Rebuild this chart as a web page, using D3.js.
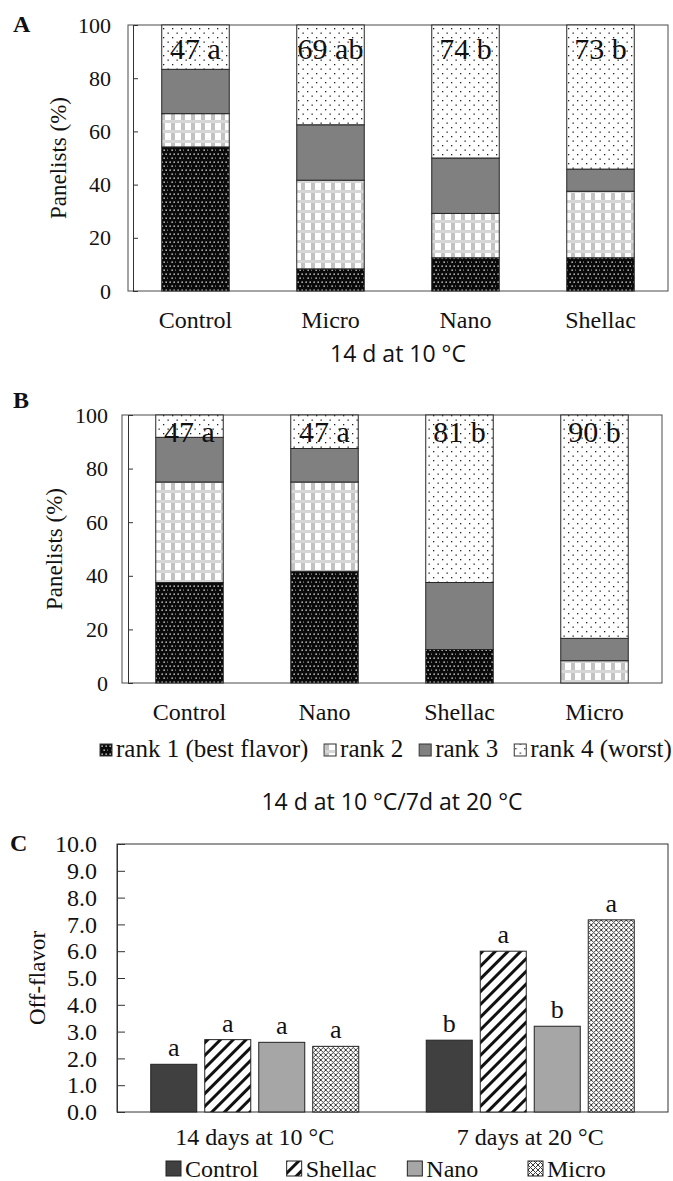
<!DOCTYPE html>
<head>
  <meta charset="utf-8">
  <script src="https://d3js.org/d3.v7.min.js"></script>
  <style type="text/css">
    body { margin: 0; background: #fff; }
  </style>
</head>

<body>
  <script type="text/javascript">
    // ---- data ----
    var rankNames = ["rank 1 (best flavor)", "rank 2", "rank 3", "rank 4 (worst)"];
    var pctTicks = [0, 20, 40, 60, 80, 100];

    // A: 14 d at 10 C  (24 panelists)
    var catsA = ["Control", "Micro", "Nano", "Shellac"];
    var rank1A = [54.17, 8.33, 12.5, 12.5];
    var rank2A = [12.5, 33.33, 16.67, 25];
    var rank3A = [16.67, 20.83, 20.83, 8.33];
    var rank4A = [16.67, 37.5, 50, 54.17];
    var sumsA = ["47 a", "69 ab", "74 b", "73 b"];

    // B: 14 d at 10 C / 7 d at 20 C
    var catsB = ["Control", "Nano", "Shellac", "Micro"];
    var rank1B = [37.5, 41.67, 12.5, 0];
    var rank2B = [37.5, 33.33, 0, 8.33];
    var rank3B = [16.67, 12.5, 25, 8.33];
    var rank4B = [8.33, 12.5, 62.5, 83.33];
    var sumsB = ["47 a", "47 a", "81 b", "90 b"];

    // C: off-flavor
    var periods = ["14 days at 10 °C", "7 days at 20 °C"];
    var coatings = ["Control", "Shellac", "Nano", "Micro"];
    var offFlavor14 = [1.78, 2.7, 2.6, 2.45];
    var offFlavor7 = [2.68, 6.0, 3.2, 7.17];
    var letters14 = ["a", "a", "a", "a"];
    var letters7 = ["b", "a", "b", "a"];
    var offTicks = [0, 1, 2, 3, 4, 5, 6, 7, 8, 9, 10];

    var SERIF = "'Liberation Serif', 'Times New Roman', serif";
    var SANS = "'Open Sans', sans-serif";

    var svg = d3.select("body").append("svg")
      .attr("width", 673)
      .attr("height", 1181)
      .attr("font-family", SERIF);

    // ---- fill patterns ----
    var defs = svg.append("defs");

    var p1 = defs.append("pattern").attr("id", "rank1")
      .attr("patternUnits", "userSpaceOnUse").attr("width", 8).attr("height", 8);
    p1.append("rect").attr("width", 8).attr("height", 8).attr("fill", "#0a0a0a");
    [[1.5, 1.5], [5.5, 1.5], [3.5, 5.5], [7.5, 5.5]].forEach(function(p) {
      p1.append("rect").attr("x", p[0]).attr("y", p[1]).attr("width", 1.3).attr("height", 1.3).attr("fill", "#fff");
    });

    var p2 = defs.append("pattern").attr("id", "rank2")
      .attr("patternUnits", "userSpaceOnUse").attr("width", 10).attr("height", 10);
    p2.append("rect").attr("width", 10).attr("height", 10).attr("fill", "#fff");
    p2.append("rect").attr("y", 0).attr("width", 10).attr("height", 3).attr("fill", "#d6d6d6");
    p2.append("rect").attr("x", 1).attr("y", 3).attr("width", 4).attr("height", 7).attr("fill", "#c2c2c2");

    var p4 = defs.append("pattern").attr("id", "rank4")
      .attr("patternUnits", "userSpaceOnUse").attr("width", 9).attr("height", 9);
    p4.append("rect").attr("width", 9).attr("height", 9).attr("fill", "#fff");
    [[1, 1], [5.5, 5.5]].forEach(function(p) {
      p4.append("rect").attr("x", p[0]).attr("y", p[1]).attr("width", 1.3).attr("height", 1.3).attr("fill", "#222");
    });

    var ps = defs.append("pattern").attr("id", "stripes")
      .attr("patternUnits", "userSpaceOnUse").attr("width", 9).attr("height", 9)
      .attr("patternTransform", "rotate(45)");
    ps.append("rect").attr("width", 9).attr("height", 9).attr("fill", "#fff");
    ps.append("rect").attr("width", 3).attr("height", 9).attr("fill", "#111");

    var pc = defs.append("pattern").attr("id", "cross")
      .attr("patternUnits", "userSpaceOnUse").attr("width", 5).attr("height", 5);
    pc.append("rect").attr("width", 5).attr("height", 5).attr("fill", "#fff");
    pc.append("path").attr("d", "M0,0L5,5M5,0L0,5").attr("stroke", "#3a3a3a").attr("stroke-width", 1);

    var rankFills = ["url(#rank1)", "url(#rank2)", "#808080", "url(#rank4)"];
    var coatFills = ["#404040", "url(#stripes)", "#a6a6a6", "url(#cross)"];

    // serif label helper
    function serif(sel, size) {
      return sel.style("font-family", SERIF).attr("font-size", size).attr("fill", "#111");
    }

    // ---- panel C: grouped off-flavor bars (drawn first) ----
    var cLeft = 117, cRight = 668, cTop = 844, cBottom = 1112;
    var gC = svg.append("g");

    var x0 = d3.scaleBand().domain(periods).range([cLeft, cRight])
      .paddingInner(0.245).paddingOuter(0.1225);
    var x1 = d3.scaleBand().domain(coatings).range([0, x0.bandwidth()])
      .paddingInner(0.148);
    var yC = d3.scaleLinear().domain([0, 10]).range([cBottom, cTop]);

    var offTable = periods.map(function(p, i) {
      var vals = i === 0 ? offFlavor14 : offFlavor7;
      var lets = i === 0 ? letters14 : letters7;
      return coatings.map(function(c, j) { return { period: p, coat: c, v: vals[j], letter: lets[j], k: j }; });
    });

    gC.append("rect")
      .attr("x", cLeft).attr("y", cTop)
      .attr("width", cRight - cLeft).attr("height", cBottom - cTop)
      .attr("fill", "none").attr("stroke", "#333");

    var groups = gC.selectAll("g.grp").data(offTable).join("g")
      .attr("class", "grp")
      .attr("transform", function(d) { return "translate(" + x0(d[0].period) + ",0)"; });

    groups.selectAll("rect").data(function(d) { return d; }).join("rect")
      .attr("x", function(d) { return x1(d.coat); })
      .attr("width", x1.bandwidth())
      .attr("y", function(d) { return yC(d.v); })
      .attr("height", function(d) { return yC(0) - yC(d.v); })
      .attr("fill", function(d) { return coatFills[d.k]; })
      .attr("stroke", "#222").attr("stroke-width", 1);

    serif(groups.selectAll("text").data(function(d) { return d; }).join("text"), 26)
      .attr("x", function(d) { return x1(d.coat) + x1.bandwidth() / 2; })
      .attr("y", function(d) { return yC(d.v) - 8; })
      .attr("text-anchor", "middle")
      .text(function(d) { return d.letter; });

    var yAxisC = gC.append("g")
      .attr("transform", "translate(" + cLeft + ",0)")
      .call(d3.axisLeft(yC).tickValues(offTicks).tickFormat(d3.format(".1f"))
        .tickSize(-8).tickSizeOuter(0).tickPadding(20))
      .attr("font-family", null);
    yAxisC.selectAll("line, path").attr("stroke", "#333");
    serif(yAxisC.selectAll("text"), 24);

    serif(gC.selectAll("text.period").data(periods).join("text"), 24)
      .attr("class", "period")
      .attr("x", function(d) { return x0(d) + x0.bandwidth() / 2; })
      .attr("y", 1145)
      .attr("text-anchor", "middle")
      .text(function(d) { return d; });

    serif(gC.append("text"), 23)
      .attr("transform", "translate(45," + (cTop + cBottom) / 2 + ") rotate(-90)")
      .attr("text-anchor", "middle")
      .text("Off-flavor");

    serif(gC.append("text"), 24)
      .attr("x", 10).attr("y", 851)
      .attr("font-weight", "bold")
      .text("C");

    var legX = d3.scalePoint().domain(coatings).range([166, 528]);
    var legC = gC.selectAll("g.legc").data(coatings).join("g")
      .attr("class", "legc")
      .attr("transform", function(d) { return "translate(" + legX(d) + ",0)"; });
    legC.append("rect")
      .attr("y", 1161).attr("width", 15).attr("height", 15)
      .attr("fill", function(d, i) { return coatFills[i]; })
      .attr("stroke", "#222");
    serif(legC.append("text"), 24)
      .attr("x", 19).attr("y", 1177)
      .text(function(d) { return d; });

    // ---- stacked percentage panels (A, B) ----
    function stackedPanel(o) {
      var g = svg.append("g");

      var table = o.cats.map(function(c, i) {
        return { cat: c, r1: o.ranks[0][i], r2: o.ranks[1][i], r3: o.ranks[2][i], r4: o.ranks[3][i] };
      });
      var series = d3.stack().keys(["r1", "r2", "r3", "r4"])(table);

      var x = d3.scaleBand().domain(o.cats).range([o.left, o.right])
        .paddingInner(0.5).paddingOuter(0.25);
      var y = d3.scaleLinear().domain([0, 100]).range([o.bottom, o.top]);

      g.append("rect")
        .attr("x", o.left).attr("y", o.top)
        .attr("width", o.right - o.left).attr("height", o.bottom - o.top)
        .attr("fill", "none").attr("stroke", "#4a4a4a");

      g.selectAll("g.layer").data(series).join("g")
        .attr("class", "layer")
        .attr("fill", function(d, i) { return rankFills[i]; })
        .selectAll("rect").data(function(d) { return d; }).join("rect")
        .attr("x", function(d) { return x(d.data.cat); })
        .attr("width", x.bandwidth())
        .attr("y", function(d) { return y(d[1]); })
        .attr("height", function(d) { return y(d[0]) - y(d[1]); })
        .attr("stroke", "#262626").attr("stroke-width", 1);

      var yAxis = g.append("g")
        .attr("transform", "translate(" + o.axisX + ",0)")
        .call(d3.axisLeft(y).tickValues(pctTicks).tickSize(-5).tickSizeOuter(0).tickPadding(o.tickPad))
        .attr("font-family", null);
      yAxis.selectAll("line, path").attr("stroke", "#333");
      serif(yAxis.selectAll("text"), 22);

      serif(g.selectAll("text.sum").data(o.sums).join("text"), 30)
        .attr("class", "sum")
        .attr("x", function(d, i) { return x(o.cats[i]) + x.bandwidth() / 2; })
        .attr("y", y(100) + o.sumOffset)
        .attr("text-anchor", "middle")
        .text(function(d) { return d; });

      serif(g.selectAll("text.cat").data(o.cats).join("text"), 24)
        .attr("class", "cat")
        .attr("x", function(d) { return x(d) + x.bandwidth() / 2; })
        .attr("y", o.bottom + 37)
        .attr("text-anchor", "middle")
        .text(function(d) { return d; });

      serif(g.append("text"), 23)
        .attr("transform", "translate(" + o.titleX + "," + (o.top + o.bottom) / 2 + ") rotate(-90)")
        .attr("text-anchor", "middle")
        .text("Panelists (%)");

      serif(g.append("text"), 24)
        .attr("x", 13).attr("y", o.letterY)
        .attr("font-weight", "bold")
        .text(o.letter);

      return g;
    }

    stackedPanel({
      letter: "A", letterY: 32,
      cats: catsA, ranks: [rank1A, rank2A, rank3A, rank4A], sums: sumsA,
      left: 128, right: 668, top: 25, bottom: 291, axisX: 133, tickPad: 22,
      titleX: 66, sumOffset: 34
    });

    stackedPanel({
      letter: "B", letterY: 408,
      cats: catsB, ranks: [rank1B, rank2B, rank3B, rank4B], sums: sumsB,
      left: 122, right: 662, top: 415, bottom: 683, axisX: 128, tickPad: 20,
      titleX: 62, sumOffset: 27
    });

    // rank legend, spread between x=100 and x=672
    var legB = svg.append("g");
    var legItems = legB.selectAll("g").data(rankNames).join("g");
    legItems.append("rect")
      .attr("width", 12).attr("height", 12).attr("y", 744)
      .attr("fill", function(d, i) { return rankFills[i]; })
      .attr("stroke", "#333");
    serif(legItems.append("text"), 25)
      .attr("x", 16).attr("y", 757)
      .text(function(d) { return d; });

    // Times widths in em for the four entries
    var legW = [7.69, 2.53, 2.53, 5.67].map(function(em) { return em * 25 + 16; });
    var legGap = (572 - d3.sum(legW)) / (rankNames.length - 1);
    var legCursor = 100;
    legItems.attr("transform", function(d, i) {
      var t = "translate(" + legCursor + ",0)";
      legCursor += legW[i] + legGap;
      return t;
    });

    // sans subtitles
    svg.append("text")
      .attr("x", 398).attr("y", 362)
      .attr("text-anchor", "middle").attr("font-size", 23)
      .style("font-family", SANS).attr("fill", "#111")
      .text("14 d at 10 °C");

    svg.append("text")
      .attr("x", 392).attr("y", 810)
      .attr("text-anchor", "middle").attr("font-size", 23)
      .style("font-family", SANS).attr("fill", "#111")
      .text("14 d at 10 °C/7d at 20 °C");
  </script>
</body>
